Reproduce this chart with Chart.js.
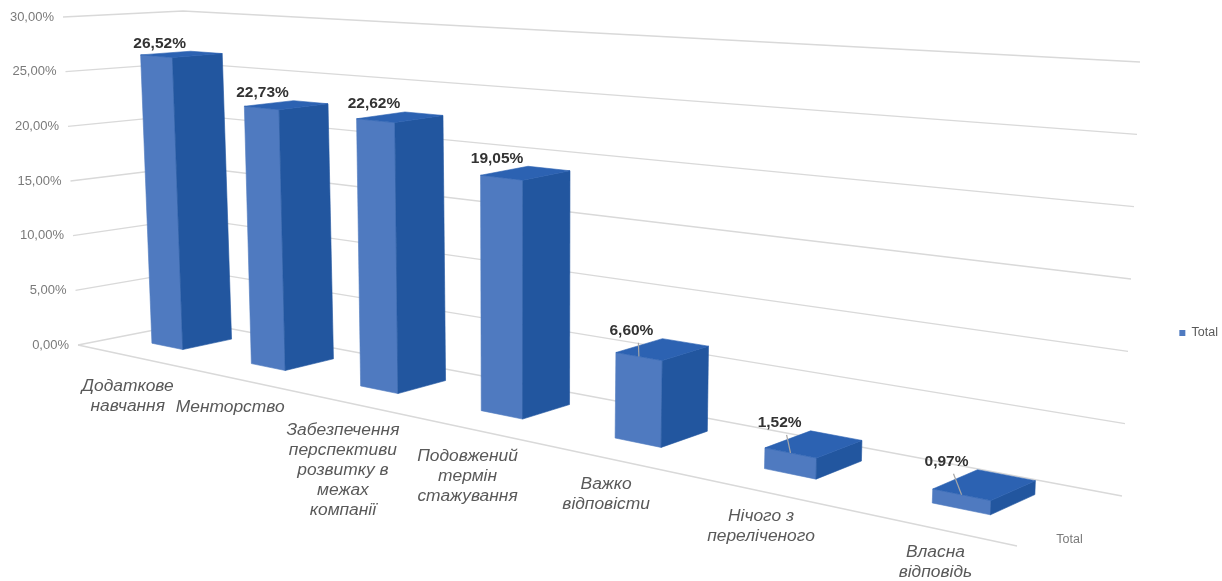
<!DOCTYPE html>
<html>
<head>
<meta charset="utf-8">
<title>Chart</title>
<script src="https://cdn.jsdelivr.net/npm/chart.js@4"></script>
<style>
  html,body{margin:0;padding:0;background:#fff}
  canvas{display:block}
</style>
</head>
<body>
<canvas id="chart3d" width="1222" height="581"></canvas>
<script>
// Daten
const categories = [
  ['Додаткове','навчання'],
  ['Менторство'],
  ['Забезпечення','перспективи','розвитку в','межах','компанії'],
  ['Подовжений','термін','стажування'],
  ['Важко','відповісти'],
  ['Нічого з','переліченого'],
  ['Власна','відповідь']
];
const values = [26.52, 22.73, 22.62, 19.05, 6.60, 1.52, 0.97];
const seriesName = 'Total';
const yMax = 30, yStep = 5;

const pct = v => v.toFixed(2).replace('.',',')+'%';

// Perspektive: Ecken des 3D-Raums (front/back, links/rechts, unten/oben)
const BOX = {
  f0:[78,345],  f1:[1017,546], b0:[195,322], b1:[1122,496],
  f0t:[63,17],  f1t:[1037,90], b0t:[183,11], b1t:[1140,62]
};
const PERSP = 0.69;               // Verkürzung entlang der Kategorie-Achse
const DEPTH_FRONT = 0.36, DEPTH_BACK = 0.78;

const COL = {front:'#4f7ac0', side:'#22569f', top:'#2c62b2',
             grid:'#d9d9d9', tick:'#7a7a7a', cat:'#595959', val:'#333333', leader:'#a6a6a6'};

const mix = (a,b,k) => [a[0]+(b[0]-a[0])*k, a[1]+(b[1]-a[1])*k];

function project(s,w,h){
  const t = s*PERSP/(1+s*(PERSP-1));
  const lo = mix(mix(BOX.f0,BOX.f1,t), mix(BOX.b0,BOX.b1,t), w);
  const hi = mix(mix(BOX.f0t,BOX.f1t,t), mix(BOX.b0t,BOX.b1t,t), w);
  return mix(lo,hi,h);
}

function poly(ctx,pts,fill){
  ctx.beginPath();
  pts.forEach((p,i)=> i ? ctx.lineTo(p[0],p[1]) : ctx.moveTo(p[0],p[1]));
  ctx.closePath();
  ctx.fillStyle = fill;
  ctx.fill();
  ctx.strokeStyle = fill;   // keine hellen Nähte zwischen den Flächen
  ctx.lineWidth = 0.6;
  ctx.stroke();
}
function line(ctx,pts,color,width){
  ctx.beginPath();
  pts.forEach((p,i)=> i ? ctx.lineTo(p[0],p[1]) : ctx.moveTo(p[0],p[1]));
  ctx.strokeStyle = color;
  ctx.lineWidth = width;
  ctx.stroke();
}

const perspectivePlugin = {
  id:'perspective',
  beforeDatasetsDraw(chart){
    const {ctx, chartArea:area, scales} = chart;
    const normH = px => (area.bottom-px)/area.height;
    const normS = px => (px-area.left)/area.width;
    ctx.save();

    // Gitterlinien + Y-Achse
    ctx.font = '13px "Liberation Sans", Arial, sans-serif';
    ctx.textAlign = 'right';
    ctx.textBaseline = 'middle';
    scales.y.ticks.forEach(tk=>{
      const h = normH(scales.y.getPixelForValue(tk.value));
      const a = project(0,0,h), b = project(0,1,h), c = project(1,1,h);
      line(ctx,[a,b,c],COL.grid,1.3);
      ctx.fillStyle = COL.tick;
      ctx.fillText(tk.label, a[0]-9, a[1]);
    });
    // Boden-Vorderkante
    line(ctx,[project(0,0,0),project(1,0,0)],COL.grid,1.3);

    // Tiefenachse
    const dp = project(1,0.5,0);
    ctx.textAlign = 'center';
    ctx.font = '12.5px "Liberation Sans", Arial, sans-serif';
    ctx.fillStyle = COL.tick;
    ctx.fillText(seriesName, dp[0], dp[1]+19);

    // Balken
    chart.getDatasetMeta(0).data.forEach((bar,i)=>{
      const s0 = normS(bar.x-bar.width/2), s1 = normS(bar.x+bar.width/2);
      const h = normH(bar.y);
      const wa = DEPTH_FRONT, wb = DEPTH_BACK;
      const p = (s,w,z) => project(s,w,z);
      poly(ctx,[p(s0,wa,0),p(s1,wa,0),p(s1,wa,h),p(s0,wa,h)],COL.front);
      poly(ctx,[p(s1,wa,0),p(s1,wb,0),p(s1,wb,h),p(s1,wa,h)],COL.side);
      poly(ctx,[p(s0,wa,h),p(s1,wa,h),p(s1,wb,h),p(s0,wb,h)],COL.top);

      // Wertelabel (kleine Balken mit Führungslinie)
      const back = p(s0,wb,h);
      const lx = back[0]-31, ly = back[1]-8;
      if(values[i]<10){
        const mid = p((s0+s1)/2,wa,h);
        line(ctx,[[lx+7,ly+12],mid],COL.leader,1.2);
      }
      ctx.font = 'bold 15.5px "Liberation Sans", Arial, sans-serif';
      ctx.textAlign = 'center';
      ctx.fillStyle = COL.val;
      ctx.fillText(pct(values[i]), lx, ly);

      // Kategorie-Label
      const near = p(s1,wa,0);
      ctx.font = 'italic 17.4px "Liberation Sans", Arial, sans-serif';
      ctx.fillStyle = COL.cat;
      categories[i].forEach((txt,k)=>{
        ctx.fillText(txt, near[0]-55, near[1]+37+k*20);
      });
    });

    ctx.restore();
    return false; // normale Balken nicht zeichnen
  }
};

new Chart(document.getElementById('chart3d'),{
  type:'bar',
  data:{
    labels:categories,
    datasets:[{
      label:seriesName,
      data:values,
      backgroundColor:COL.front,
      categoryPercentage:0.8,
      barPercentage:0.4
    }]
  },
  options:{
    responsive:false,
    animation:false,
    layout:{padding:{top:85,right:-6}},
    scales:{
      x:{display:false},
      y:{display:false,min:0,max:yMax,ticks:{stepSize:yStep,callback:v=>pct(v)}}
    },
    plugins:{
      tooltip:{enabled:false},
      legend:{
        position:'right',
        labels:{boxWidth:6,boxHeight:6,padding:2,color:'#595959',
                font:{family:'"Liberation Sans", Arial, sans-serif',size:12.5}}
      }
    }
  },
  plugins:[perspectivePlugin]
});
</script>
</body>
</html>
